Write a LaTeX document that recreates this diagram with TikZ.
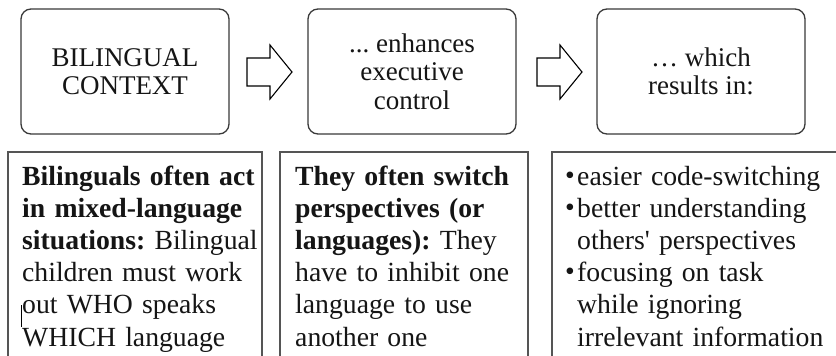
\documentclass[tikz,border=0pt]{standalone}
\usepackage{fontspec}
\setmainfont{Liberation Serif}
\usetikzlibrary{calc}
\frenchspacing
\definecolor{topline}{HTML}{3A3A3A}
\definecolor{boxline}{HTML}{555555}
\definecolor{ink}{HTML}{151515}
\tikzset{
  topbox/.style={draw=topline, line width=1.3pt, rounded corners=10pt,
    minimum width=208pt, minimum height=125pt, align=center, inner sep=0pt,
    text=ink, font=\fontsize{27}{28.3}\selectfont},
  bottomtext/.style={anchor=base west, inner sep=0pt, text width=300pt,
    align=left, text=ink, font=\fontsize{27.7}{32.2}\selectfont},
  bottomframe/.style={draw=boxline, line width=1.6pt},
  blockarrow/.style={draw=black, line width=1.1pt, fill=white, line join=miter}
}
\newcommand{\bul}{\makebox[12pt][l]{\raisebox{1pt}{\textbullet}}}
\newcommand{\ind}{\hspace*{12pt}}
\begin{document}
\frenchspacing
\begin{tikzpicture}[x=1pt,y=-1pt]
\useasboundingbox (0,0) rectangle (836,356);
\fill[white] (0,0) rectangle (836,356);
\clip (0,0) rectangle (836,356);

% top boxes
\node[topbox] (t1) at (125,71.5) {BILINGUAL\\CONTEXT};
\node[topbox] (t2) at (412,71.5) {... enhances\\executive\\control};
\node[topbox] (t3) at (701,71.5) {… which\\results in:};

% block arrows between the top boxes
\coordinate (a1) at ($(t1.east)!0.5!(t2.west)$);
\coordinate (a2) at ($(t2.east)!0.5!(t3.west)$);
\draw[blockarrow, shift={($(a1)+(1,0.5)$)}]
  (-22.5,-14) -- (0.5,-14) -- (0.5,-27) -- (22.5,0) -- (0.5,27) -- (0.5,14) -- (-22.5,14) -- cycle;
\draw[blockarrow, shift={($(a2)+(3,0.5)$)}]
  (-22.5,-14) -- (0.5,-14) -- (0.5,-27) -- (22.5,0) -- (0.5,27) -- (0.5,14) -- (-22.5,14) -- cycle;

% bottom frames (they run past the lower edge)
\draw[bottomframe] (8,152) rectangle (262,380);
\draw[bottomframe] (280,152) rectangle (528,380);
\draw[bottomframe] (552,152) rectangle (860,380);

% bottom texts
\node[bottomtext] (b1) at (22,185)
  {\textbf{Bilinguals often act}\\
   \textbf{in mixed-language}\\
   \textbf{situations:} Bilingual\\
   children must work\\
   out WHO speaks\\
   WHICH language};
\node[bottomtext] (b2) at (295,185)
  {\textbf{They often switch}\\
   \textbf{perspectives (or}\\
   \textbf{languages):} They\\
   have to inhibit one\\
   language to use\\
   another one};
\node[bottomtext] (b3) at (565,185)
  {\bul easier code-switching\\
   \bul better understanding\\
   \ind others\textquotesingle{} perspectives\\
   \bul focusing on task\\
   \ind while ignoring\\
   \ind irrelevant information};

% text cursor mark
\draw[black, line width=0.8pt] (21.5,305) -- (21.5,327);
\end{tikzpicture}
\end{document}
